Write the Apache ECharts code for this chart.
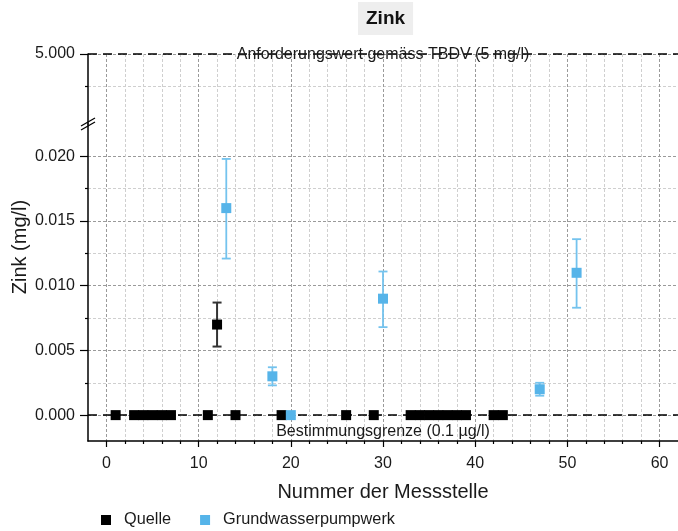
<!DOCTYPE html>
<html>
<head>
<meta charset="utf-8">
<script src="https://cdn.jsdelivr.net/npm/echarts@6/dist/echarts.min.js"></script>
<style>
html,body{margin:0;padding:0;background:#fff;}
#chart{width:678px;height:531px;}
</style>
</head>
<body>
<div id="chart"></div>
<script>
// ---- data ----
const quelleX = [1, 3, 4, 5, 6, 7, 11, 12, 14, 19, 26, 29, 33, 34, 35, 36, 37, 38, 39, 42, 43];
const quelleY = [0, 0, 0, 0, 0, 0, 0, 0.007, 0, 0, 0, 0, 0, 0, 0, 0, 0, 0, 0, 0, 0];
const quelleErrX = [12];
const quelleErrLow = [0.0053];
const quelleErrHigh = [0.0087];

const gwX = [13, 18, 20, 30, 47, 51];
const gwY = [0.016, 0.003, 0, 0.009, 0.002, 0.011];
const gwErrX = [13, 18, 30, 47, 51];
const gwErrLow = [0.0121, 0.0023, 0.0068, 0.0015, 0.0083];
const gwErrHigh = [0.0198, 0.0037, 0.0111, 0.0025, 0.0136];

const xMajorTicks = [0, 10, 20, 30, 40, 50, 60];
const xMinorTicks = [2, 4, 6, 8, 12, 14, 16, 18, 22, 24, 26, 28, 32, 34, 36, 38, 42, 44, 46, 48, 52, 54, 56, 58];
const yLowMajorTicks = [0, 0.005, 0.010, 0.015, 0.020];
const yLowMinorTicks = [0.0025, 0.0075, 0.0125, 0.0175];
const yUpMajorTicks = [5.0];
const yUpMinorTicks = [4.9975];

const limitValue = 5.0;
const limitLabel = 'Anforderungswert gemäss TBDV (5 mg/l)';
const detectValue = 0;
const detectLabel = 'Bestimmungsgrenze (0.1 µg/l)';

const FONT = 'Liberation Sans, Arial, sans-serif';
const TXT = '#1a1a1a';
const darkGrid = {color: '#9a9a9a', type: [3, 2], width: 1};
const lightGrid = {color: '#cfcfcf', type: [3, 2], width: 1};

function zip(a, b) { return a.map((v, i) => [v, b[i]]); }
function zip3(a, b, c) { return a.map((v, i) => [v, b[i], c[i]]); }

function errRender(color, width, capW) {
  return function (params, api) {
    const x = api.value(0);
    const lo = api.coord([x, api.value(1)]);
    const hi = api.coord([x, api.value(2)]);
    const st = {stroke: color, lineWidth: width};
    return {
      type: 'group',
      children: [
        {type: 'line', shape: {x1: lo[0], y1: lo[1], x2: hi[0], y2: hi[1]}, style: st},
        {type: 'line', shape: {x1: lo[0] - capW / 2, y1: lo[1], x2: lo[0] + capW / 2, y2: lo[1]}, style: st},
        {type: 'line', shape: {x1: hi[0] - capW / 2, y1: hi[1], x2: hi[0] + capW / 2, y2: hi[1]}, style: st}
      ]
    };
  };
}

const xBase = {type: 'value', min: -2, max: 62, position: 'bottom'};
function hiddenX(grid, ticks, grid_style) {
  return Object.assign({}, xBase, {
    gridIndex: grid,
    axisLine: {show: false, onZero: false},
    axisTick: {show: false, customValues: ticks},
    axisLabel: {show: false},
    splitLine: {show: true, lineStyle: grid_style}
  });
}

const chart = echarts.init(document.getElementById('chart'), null, {renderer: 'canvas'});
const option = {
  animation: false,
  backgroundColor: '#ffffff',
  textStyle: {fontFamily: FONT, color: TXT},
  title: {
    text: 'Zink', left: 358, top: 2,
    backgroundColor: '#eeeeee', padding: [7, 8],
    textStyle: {fontFamily: FONT, fontSize: 19, fontWeight: 'bold', color: '#111'}
  },
  legend: {
    data: ['Quelle', 'Grundwasserpumpwerk'],
    left: 96, top: 507,
    itemWidth: 10, itemHeight: 10, itemGap: 29,
    icon: 'rect',
    textStyle: {fontFamily: FONT, fontSize: 16.3, color: TXT, padding: [0, 0, 0, 8]}
  },
  grid: [
    {left: 88, right: 0, top: 54, height: 70},
    {left: 88, right: 0, top: 124, bottom: 90}
  ],
  xAxis: [
    hiddenX(0, xMajorTicks, darkGrid),
    hiddenX(0, xMinorTicks, lightGrid),
    Object.assign({}, xBase, {
      gridIndex: 1,
      name: 'Nummer der Messstelle', nameLocation: 'middle', nameGap: 41,
      nameTextStyle: {fontFamily: FONT, fontSize: 20, color: TXT},
      axisLine: {show: true, onZero: false, lineStyle: {color: '#000', width: 1.5}},
      axisTick: {show: true, length: 6, customValues: xMajorTicks, lineStyle: {color: '#000', width: 1.2}},
      axisLabel: {show: true, customValues: xMajorTicks, margin: 15, fontSize: 16, color: TXT, fontFamily: FONT},
      splitLine: {show: true, lineStyle: darkGrid}
    }),
    Object.assign({}, xBase, {
      gridIndex: 1,
      axisLine: {show: false, onZero: false},
      axisTick: {show: true, length: 3, customValues: xMinorTicks, lineStyle: {color: '#000', width: 1.2}},
      axisLabel: {show: false},
      splitLine: {show: true, lineStyle: lightGrid}
    })
  ],
  yAxis: [
    {
      type: 'value', gridIndex: 0, min: 4.99465, max: 5.0, position: 'left',
      axisLine: {show: true, onZero: false, lineStyle: {color: '#000', width: 1.5}},
      axisTick: {show: true, length: 8, customValues: yUpMajorTicks, lineStyle: {color: '#000', width: 1.2}},
      axisLabel: {show: true, customValues: yUpMajorTicks, margin: 13, fontSize: 16, color: TXT, fontFamily: FONT,
        formatter: v => v.toFixed(3)},
      splitLine: {show: true, lineStyle: darkGrid}
    },
    {
      type: 'value', gridIndex: 0, min: 4.99465, max: 5.0, position: 'left',
      axisLine: {show: false, onZero: false},
      axisTick: {show: true, length: 3, customValues: yUpMinorTicks, lineStyle: {color: '#000', width: 1.2}},
      axisLabel: {show: false},
      splitLine: {show: true, lineStyle: lightGrid}
    },
    {
      type: 'value', gridIndex: 1, min: -0.002, max: 0.0225, position: 'left',
      axisLine: {show: true, onZero: false, lineStyle: {color: '#000', width: 1.5}},
      axisTick: {show: true, length: 8, customValues: yLowMajorTicks, lineStyle: {color: '#000', width: 1.2}},
      axisLabel: {show: true, customValues: yLowMajorTicks, margin: 13, fontSize: 16, color: TXT, fontFamily: FONT,
        formatter: v => v.toFixed(3)},
      splitLine: {show: true, lineStyle: darkGrid}
    },
    {
      type: 'value', gridIndex: 1, min: -0.002, max: 0.0225, position: 'left',
      axisLine: {show: false, onZero: false},
      axisTick: {show: true, length: 3, customValues: yLowMinorTicks, lineStyle: {color: '#000', width: 1.2}},
      axisLabel: {show: false},
      splitLine: {show: true, lineStyle: lightGrid}
    }
  ],
  graphic: [
    {
      type: 'text', x: 20, y: 247, rotation: Math.PI / 2,
      style: {text: 'Zink (mg/l)', font: '20px ' + FONT, fill: TXT, align: 'center', verticalAlign: 'middle'}
    },
    {type: 'line', shape: {x1: 81, y1: 126, x2: 95, y2: 118}, style: {stroke: '#000', lineWidth: 1.3}, z: 100},
    {type: 'line', shape: {x1: 81, y1: 130, x2: 95, y2: 122}, style: {stroke: '#000', lineWidth: 1.3}, z: 100}
  ],
  series: [
    {
      name: 'limit', type: 'line', xAxisIndex: 0, yAxisIndex: 0, data: [],
      markLine: {
        silent: true, symbol: 'none',
        lineStyle: {color: '#000', type: [9, 6], width: 1.6},
        label: {show: true, position: 'middle', distance: -9, formatter: limitLabel,
          fontSize: 16, color: TXT, fontFamily: FONT},
        data: [{yAxis: limitValue}]
      }
    },
    {
      name: 'Quelle Fehler', type: 'custom', xAxisIndex: 2, yAxisIndex: 2, z: 2,
      renderItem: errRender('#333333', 2, 9),
      data: zip3(quelleErrX, quelleErrLow, quelleErrHigh)
    },
    {
      name: 'Grundwasserpumpwerk Fehler', type: 'custom', xAxisIndex: 2, yAxisIndex: 2, z: 2,
      renderItem: errRender('#74c3ee', 1.8, 9),
      data: zip3(gwErrX, gwErrLow, gwErrHigh)
    },
    {
      name: 'Quelle', type: 'scatter', xAxisIndex: 2, yAxisIndex: 2, z: 3,
      symbol: 'rect', symbolSize: 10,
      itemStyle: {color: '#000000', opacity: 1},
      data: zip(quelleX, quelleY),
      markLine: {
        silent: true, symbol: 'none', z: 1,
        lineStyle: {color: '#000', type: [9, 6], width: 1.6},
        label: {show: true, position: 'insideMiddleBottom', distance: 8, formatter: detectLabel,
          fontSize: 16, color: TXT, fontFamily: FONT},
        data: [{yAxis: detectValue}]
      }
    },
    {
      name: 'Grundwasserpumpwerk', type: 'scatter', xAxisIndex: 2, yAxisIndex: 2, z: 4,
      symbol: 'rect', symbolSize: 10,
      itemStyle: {color: '#56b4e9', opacity: 1},
      data: zip(gwX, gwY)
    }
  ]
};
chart.setOption(option);
</script>
</body>
</html>
